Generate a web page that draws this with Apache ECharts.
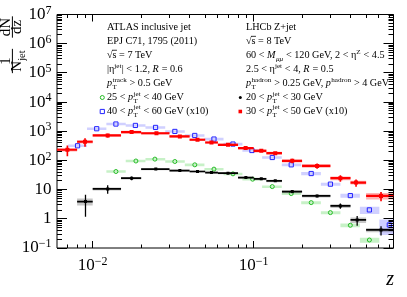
<!DOCTYPE html>
<html><head><meta charset="utf-8">
<script src="https://cdn.jsdelivr.net/npm/echarts@6/dist/echarts.min.js"></script>
<style>html,body{margin:0;padding:0;background:#fff}#c{width:407px;height:297px}</style>
</head><body><div id="c"></div>
<script>
// ---------------- data ----------------
const lhcbEdges = [0.006,0.008,0.01,0.015,0.02,0.03,0.04,0.05,0.06,0.08,0.1,0.12,0.15,0.2,0.3,0.4,0.5,0.74];
const atlasEdges = [0.00703,0.00922,0.01216,0.01604,0.02128,0.02823,0.03735,0.04947,0.065,0.0852,0.1129,0.1496,0.1975,0.2618,0.3462,0.4575,0.6042,0.74];

// LHCb 30 < pT < 50 GeV (x10)
const redFirstBin = 0;
const redZ    = [0.00696,0.00896,0.01239,0.01745,0.0249,0.0348,0.0448,0.0547,0.0693,0.0892,0.1116,0.1363,0.1738,0.248,0.346,0.433,0.619];
const redVal  = [232,436,717,939,854,663,511,412,344,265,214,178,97,65,24.7,17.5,6.1];
const redStat = [0.4,0.33,0.15,0.06,0.05,0.05,0.05,0.05,0.05,0.05,0.06,0.07,0.17,0.2,0.25,0.28,0.35];
const redSys  = [0.12,0.12,0.1,0.1,0.1,0.1,0.1,0.1,0.1,0.1,0.12,0.12,0.12,0.13,0.15,0.15,0.25];

// LHCb 20 < pT < 30 GeV
const blackFirstBin = 1;
const blackZ    = [0.00902,0.01239,0.01745,0.02467,0.0348,0.0448,0.0547,0.0693,0.0895,0.1116,0.1363,0.1738,0.248,0.346,0.44,0.619];
const blackVal  = [3.89,10.6,24.7,50.4,45.1,41.7,38.5,36.7,25.9,23.4,20,8.57,6.1,2.77,0.914,0.415];
const blackStat = [0.7,0.32,0.15,0.05,0.05,0.05,0.05,0.05,0.05,0.06,0.07,0.13,0.1,0.2,0.37,0.35];
const blackSys  = [0.27,0.12,0.1,0.08,0.08,0.08,0.08,0.08,0.08,0.1,0.1,0.12,0.12,0.15,0.22,0.16];

// ATLAS 40 < pT < 60 GeV (x10)
const blueFirstBin = 0;
const blueZ   = [0.00805,0.01059,0.01394,0.01842,0.02458,0.0324,0.04307,0.0567,0.0744,0.0976,0.1306,0.1713,0.2279,0.3001,0.399,0.524,0.697];
const blueVal = [318,1219,1767,1582,1351,985,717,540,364,219,126,70.8,35.6,15.4,6.25,2.02,0.616];
const blueSys = [0.1,0.1,0.1,0.1,0.1,0.1,0.1,0.1,0.1,0.1,0.1,0.1,0.12,0.12,0.15,0.27,0.55];

// ATLAS 25 < pT < 40 GeV
const greenFirstBin = 2;
const greenZ   = [0.01394,0.01856,0.02435,0.0324,0.0431,0.0567,0.0744,0.0986,0.1306,0.1713,0.2279,0.300,0.399,0.524];
const greenVal = [41.7,95.6,111,91.9,70.8,50.4,34.7,22.8,12.7,7.32,3.59,1.63,0.601,0.188];
const greenSys = [0.1,0.1,0.1,0.1,0.1,0.1,0.1,0.1,0.1,0.1,0.12,0.12,0.15,0.2];

// axes
const X_MIN = 0.006, X_MAX = 0.74, Y_MIN = 0.1, Y_MAX = 1e7;
const xTickMajor = [0.01, 0.1];
const xTickMinor = [0.007,0.008,0.009,0.02,0.03,0.04,0.05,0.06,0.07,0.08,0.09,0.2,0.3,0.4,0.5,0.6,0.7];
const xTickExps  = [-2, -1];
const xTickLabels = ['{b|10}{e|\u22122}', '{b|10}{e|\u22121}'];
const yTickExps  = [-1,0,1,2,3,4,5,6,7];
const yTickLabels = ['{b|10}{e|\u22121}','{b|1}','{b|10}','{b|10}{e|2}','{b|10}{e|3}','{b|10}{e|4}','{b|10}{e|5}','{b|10}{e|6}','{b|10}{e|7}'];
const yMinorMult = [2,3,4,5,6,7,8,9];

// ---------------- helpers ----------------
const FONT = '"Liberation Serif","Times New Roman",serif';
const mc = document.createElement('canvas').getContext('2d');
function fstr(sz, it){ return (it ? 'italic ' : '') + sz + 'px ' + FONT; }
function tw(t, sz, it){ mc.font = fstr(sz, it); return mc.measureText(t).width; }
function txt(x, base, t, sz, it, color){
  return {type:'text', x:x, y:base - 0.32*sz, silent:true,
    style:{text:t, font:fstr(sz,it), fill:color||'#000', textAlign:'left', textVerticalAlign:'middle', align:'left', verticalAlign:'middle'}};
}
function richLine(x0, base, sz, segs, color){
  const els = []; let x = x0; const sm = sz*0.7; color = color || '#000';
  segs.forEach(s => {
    if (typeof s === 'string') { els.push(txt(x, base, s, sz, false, color)); x += tw(s, sz, false); }
    else if (s.i) { els.push(txt(x, base, s.i, sz, true, color)); x += tw(s.i, sz, true) + 0.4; }
    else if (s.sqrt) {
      const w1 = tw('\u221a', sz), w2 = tw(s.sqrt, sz);
      els.push(txt(x, base, '\u221a', sz, false, color));
      els.push(txt(x + w1, base, s.sqrt, sz, false, color));
      els.push({type:'line', silent:true, shape:{x1:x + w1 - 0.6, y1:base - sz*0.82, x2:x + w1 + w2 + 0.4, y2:base - sz*0.82}, style:{stroke:color, lineWidth:0.8}});
      x += w1 + w2;
    } else {
      let w = 0;
      if (s.sub) { els.push(txt(x, base + sz*0.28, s.sub, sm, !!s.subIt, color)); w = Math.max(w, tw(s.sub, sm, !!s.subIt)); }
      if (s.sup) { els.push(txt(x, base - sz*0.42, s.sup, sm, false, color)); w = Math.max(w, tw(s.sup, sm, false)); }
      x += w + 0.3;
    }
  });
  return els;
}

function buildData(z, v, edges, first, stat, sys){
  return z.map((zz, i) => [zz, v[i], edges[first + i], edges[first + i + 1], stat ? stat[i] : 0, sys[i]]);
}

function makeRender(kind, color, boxColor){
  return function(params, api){
    const zc = api.value(0), v = api.value(1), lo = api.value(2), hi = api.value(3), st = api.value(4), sy = api.value(5);
    const c = api.coord([zc, v]);
    const L = api.coord([lo, v]), R = api.coord([hi, v]);
    const sT = api.coord([zc, v*(1+sy)]), sB = api.coord([zc, v*(1-sy)]);
    const ch = [];
    ch.push({type:'rect', shape:{x:L[0], y:sT[1], width:R[0]-L[0], height:sB[1]-sT[1]}, style:{fill:boxColor}});
    if (kind === 'lhcb') {
      const eT = api.coord([zc, v*(1+st)]), eB = api.coord([zc, v*(1-st)]);
      const red = color === '#ff0000';
      const lw = red ? 2.2 : 1.7;
      ch.push({type:'line', shape:{x1:L[0], y1:c[1], x2:R[0], y2:c[1]}, style:{stroke:color, lineWidth:lw}});
      ch.push({type:'line', shape:{x1:c[0], y1:eT[1], x2:c[0], y2:eB[1]}, style:{stroke:color, lineWidth:lw*0.75}});
      const m = red ? 4 : 3;
      ch.push({type:'rect', shape:{x:c[0]-m/2, y:c[1]-m/2, width:m, height:m}, style:{fill:color}});
    } else if (kind === 'square') {
      ch.push({type:'rect', shape:{x:c[0]-2.1, y:c[1]-2.1, width:4.2, height:4.2}, style:{fill:'none', stroke:color, lineWidth:1}});
    } else {
      ch.push({type:'circle', shape:{cx:c[0], cy:c[1], r:2}, style:{fill:'none', stroke:color, lineWidth:1}});
    }
    return {type:'group', children:ch};
  };
}

function snap(p){ return Math.round(p - 0.5) + 0.5; }
function xTickRender(params, api){
  const v = api.value(0), len = api.value(2) ? 7 : 3.5;
  const b = api.coord([v, Y_MIN]), t = api.coord([v, Y_MAX]);
  const x = snap(b[0]);
  return {type:'group', children:[
    {type:'line', shape:{x1:x, y1:b[1], x2:x, y2:b[1]-len}, style:{stroke:'#000', lineWidth:1}},
    {type:'line', shape:{x1:x, y1:t[1], x2:x, y2:t[1]+len}, style:{stroke:'#000', lineWidth:1}}]};
}
function yTickRender(params, api){
  const v = api.value(1), len = api.value(2) ? 10 : 5;
  const l = api.coord([X_MIN, v]), r = api.coord([X_MAX, v]);
  const y = snap(l[1]);
  return {type:'group', children:[
    {type:'line', shape:{x1:l[0], y1:y, x2:l[0]+len, y2:y}, style:{stroke:'#000', lineWidth:1}},
    {type:'line', shape:{x1:r[0], y1:y, x2:r[0]-len, y2:y}, style:{stroke:'#000', lineWidth:1}}]};
}

const xTickData = xTickMajor.map(v => [v, Y_MIN, 1]).concat(xTickMinor.map(v => [v, Y_MIN, 0]));
const yTickData = [];
yTickExps.forEach(e => {
  yTickData.push([X_MIN, Math.pow(10, e), 1]);
  if (e < 7) yMinorMult.forEach(m => yTickData.push([X_MIN, m*Math.pow(10, e), 0]));
});

// ---------------- legend / text graphics ----------------
const LSZ = 10.2;
const rows = [30.7, 44.7, 58.6, 72.5, 86.4, 100.3, 114.2];
const leftX = 107, rightX = 246;
const leftLines = [
  ['ATLAS inclusive jet'],
  ['EPJ C71, 1795 (2011)'],
  [{sqrt:'s'}, ' = 7 TeV'],
  ['|\u03b7', {sup:'jet'}, '| < 1.2, ', {i:'R'}, ' = 0.6'],
  [{i:'p'}, {sub:'T', sup:'track'}, ' > 0.5 GeV'],
  ['25 < ', {i:'p'}, {sub:'T', sup:'jet'}, ' < 40 GeV'],
  ['40 < ', {i:'p'}, {sub:'T', sup:'jet'}, ' < 60 GeV (x10)']
];
const rightLines = [
  ['LHCb Z+jet'],
  [{sqrt:'s'}, ' = 8 TeV'],
  ['60 < ', {i:'M'}, {sub:'\u03bc\u03bc', subIt:true}, ' < 120 GeV, 2 < \u03b7', {sup:'Z'}, ' < 4.5'],
  ['2.5 < \u03b7', {sup:'jet'}, ' < 4, ', {i:'R'}, ' = 0.5'],
  [{i:'p'}, {sub:'T', sup:'hadron'}, ' > 0.25 GeV, ', {i:'p'}, {sup:'hadron'}, ' > 4 GeV'],
  ['20 < ', {i:'p'}, {sub:'T', sup:'jet'}, ' < 30 GeV'],
  ['30 < ', {i:'p'}, {sub:'T', sup:'jet'}, ' < 50 GeV (x10)']
];
let graphics = [];
leftLines.forEach((l, i) => { graphics = graphics.concat(richLine(leftX, rows[i], LSZ, l)); });
rightLines.forEach((l, i) => { graphics = graphics.concat(richLine(rightX, rows[i], LSZ, l)); });
// legend symbols
graphics.push({type:'circle', silent:true, shape:{cx:102.3, cy:97.5, r:2}, style:{fill:'none', stroke:'#22bb22', lineWidth:1}});
graphics.push({type:'rect', silent:true, shape:{x:100.2, y:109.4, width:4.2, height:4.2}, style:{fill:'none', stroke:'#2222ff', lineWidth:1}});
graphics.push({type:'circle', silent:true, shape:{cx:240.3, cy:97.5, r:1.5}, style:{fill:'#000'}});
graphics.push({type:'rect', silent:true, shape:{x:238.5, y:109.7, width:3.6, height:3.6}, style:{fill:'#ff0000'}});

// axis title z
graphics.push({type:'text', silent:true, x:394, y:286.5 - 0.32*20, style:{text:'z', font:fstr(20, true), fill:'#000', textAlign:'right', align:'right', textVerticalAlign:'middle', verticalAlign:'middle'}});

// y title: 1/N_jet dN/dz (rotated, reads bottom to top)
(function(){
  const s = 15, sm = 10.5, NUM = 10.8, DEN = 22.3, BAR = 12.4, Y0 = 78;
  const ch = [];
  // first fraction centred at screen y = 61
  const c1 = Y0 - 61;
  const wN = tw('N', s) + tw('jet', sm), w1 = tw('1', s), fw1 = Math.max(wN, w1);
  ch.push(txt(c1 - w1/2, NUM, '1', s));
  ch.push(txt(c1 - wN/2, DEN, 'N', s));
  ch.push(txt(c1 - wN/2 + tw('N', s), DEN + 0.25*s, 'jet', sm));
  ch.push({type:'line', shape:{x1:c1 - fw1/2 - 1.5, y1:BAR, x2:c1 + fw1/2 + 1.5, y2:BAR}, style:{stroke:'#000', lineWidth:1}});
  // second fraction centred at screen y = 27
  const c2 = Y0 - 27;
  const wdN = tw('dN', s), wdz = tw('dz', s), fw2 = Math.max(wdN, wdz);
  ch.push(txt(c2 - wdN/2, NUM, 'dN', s));
  ch.push(txt(c2 - wdz/2, DEN, 'dz', s));
  ch.push({type:'line', shape:{x1:c2 - fw2/2 - 1.5, y1:BAR, x2:c2 + fw2/2 + 1.5, y2:BAR}, style:{stroke:'#000', lineWidth:1}});
  graphics.push({type:'group', x:0, y:Y0, rotation:Math.PI/2, silent:true, children:ch});
})();

// ---------------- chart ----------------
const chart = echarts.init(document.getElementById('c'), null, {renderer:'canvas'});
const labelRich = {
  b:{fontSize:17, lineHeight:20, fontFamily:FONT, color:'#000'},
  e:{fontSize:12, lineHeight:12, verticalAlign:'top', fontFamily:FONT, color:'#000'}
};
function decadeIndex(v, exps){
  const l = Math.log10(v), e = Math.round(l);
  if (Math.abs(l - e) > 1e-6) return -1;
  return exps.indexOf(e);
}
chart.setOption({
  animation:false,
  backgroundColor:'#fff',
  textStyle:{fontFamily:FONT},
  grid:{left:57, right:13.5, top:14.5, bottom:49, show:true, borderColor:'#000', borderWidth:1, containLabel:false, outerBoundsMode:'none'},
  xAxis:{type:'log', logBase:10, min:X_MIN, max:X_MAX, splitNumber:5,
    axisLine:{show:false}, axisTick:{show:false}, splitLine:{show:false}, minorTick:{show:false},
    axisLabel:{margin:8, showMinLabel:true, showMaxLabel:true, hideOverlap:false, rich:labelRich,
      formatter:function(v){ const i = decadeIndex(v, xTickExps); return i < 0 ? '' : xTickLabels[i]; }}},
  yAxis:{type:'log', logBase:10, min:Y_MIN, max:Y_MAX, splitNumber:8,
    axisLine:{show:false}, axisTick:{show:false}, splitLine:{show:false}, minorTick:{show:false},
    axisLabel:{margin:5.5, showMinLabel:true, showMaxLabel:true, hideOverlap:false, rich:labelRich,
      formatter:function(v){ const i = decadeIndex(v, yTickExps); return i < 0 ? '' : yTickLabels[i]; }}},
  series:[
    {type:'custom', name:'ATLAS 40-60', clip:true, renderItem:makeRender('square', '#2222ff', 'rgba(40,40,255,0.22)'),
      data:buildData(blueZ, blueVal, atlasEdges, blueFirstBin, null, blueSys), z:2},
    {type:'custom', name:'ATLAS 25-40', clip:true, renderItem:makeRender('circle', '#22bb22', 'rgba(0,190,0,0.22)'),
      data:buildData(greenZ, greenVal, atlasEdges, greenFirstBin, null, greenSys), z:2},
    {type:'custom', name:'LHCb 20-30', clip:true, renderItem:makeRender('lhcb', '#000000', 'rgba(0,0,0,0.22)'),
      data:buildData(blackZ, blackVal, lhcbEdges, blackFirstBin, blackStat, blackSys), z:3},
    {type:'custom', name:'LHCb 30-50', clip:true, renderItem:makeRender('lhcb', '#ff0000', 'rgba(255,0,0,0.3)'),
      data:buildData(redZ, redVal, lhcbEdges, redFirstBin, redStat, redSys), z:3},
    {type:'custom', name:'xticks', clip:false, silent:true, renderItem:xTickRender, data:xTickData, z:5},
    {type:'custom', name:'yticks', clip:false, silent:true, renderItem:yTickRender, data:yTickData, z:5}
  ],
  graphic:graphics
});
</script>
</body></html>
